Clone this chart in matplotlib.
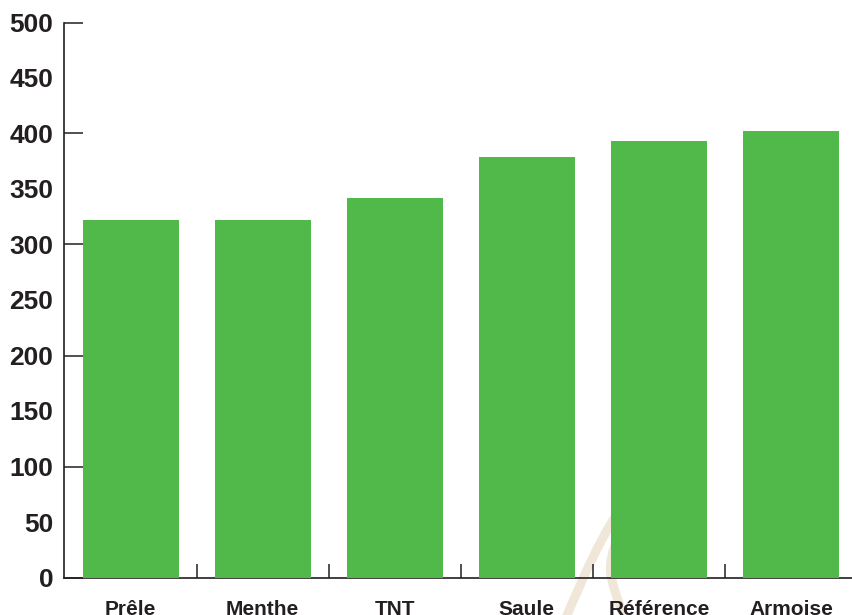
import matplotlib.pyplot as plt
from matplotlib.path import Path
from matplotlib.patches import PathPatch

# valeurs lues par categorie
categories = ["Prêle", "Menthe", "TNT", "Saule", "Référence", "Armoise"]
valeurs = [322, 322, 342, 379, 393, 402]

ticks_majeurs = [0, 100, 200, 300, 400, 500]
ticks_mineurs = [50, 150, 250, 350, 450]

vert = "#51b949"
noir = "#231f20"

plt.rcParams["font.family"] = ["Liberation Sans", "DejaVu Sans"]
plt.rcParams["font.weight"] = "bold"

W, H = 853, 615
fig = plt.figure(figsize=(W / 100, H / 100), dpi=100)

ax = fig.add_axes([64.5 / W, 1 - 577.5 / H, 792.5 / W, 555 / H])

x = list(range(len(categories)))
ax.bar(x, valeurs, width=0.727, color=vert, zorder=3)

ax.set_xlim(-0.5, 5.5)
ax.set_ylim(0, 500)


# filigrane beige en forme de boucle, derriere les barres
def px(x, y):
    return (x / W, 1 - y / H)


sommets = [px(560, 632),
           px(590, 560), px(615, 505), px(640, 490),
           px(660, 480), px(600, 540), px(612, 580),
           px(615, 595), px(622, 610), px(630, 632)]
codes = [Path.MOVETO] + [Path.CURVE4] * 9
goutte = PathPatch(Path(sommets, codes), transform=fig.transFigure,
                   facecolor="none", edgecolor="#f0e7d8", linewidth=6.5,
                   zorder=1, clip_on=False)
ax.add_patch(goutte)

for s in ["top", "right"]:
    ax.spines[s].set_visible(False)
for s in ["left", "bottom"]:
    ax.spines[s].set_color(noir)
    ax.spines[s].set_linewidth(1.2)
    ax.spines[s].set_zorder(2)

# axe y : traits tous les 100, etiquettes tous les 50
ax.set_yticks(ticks_majeurs)
ax.set_yticklabels([str(v) for v in ticks_majeurs])
ax.set_yticks(ticks_mineurs, minor=True)
ax.set_yticklabels([str(v) for v in ticks_mineurs], minor=True)
ax.tick_params(axis="y", which="major", direction="in", length=13.5,
               width=1.1, color=noir, pad=8, labelsize=19, labelcolor=noir)
ax.tick_params(axis="y", which="minor", length=0, pad=8,
               labelsize=19, labelcolor=noir)

# axe x : etiquettes au centre, traits entre les categories
ax.set_xticks(x)
ax.set_xticklabels(categories)
ax.set_xticks([i + 0.5 for i in range(len(categories) - 1)], minor=True)
ax.tick_params(axis="x", which="major", length=0, pad=16,
               labelsize=15, labelcolor=noir)
ax.tick_params(axis="x", which="minor", direction="in", length=10,
               width=1.1, color=noir)

fig.savefig("out.png", dpi=100)
